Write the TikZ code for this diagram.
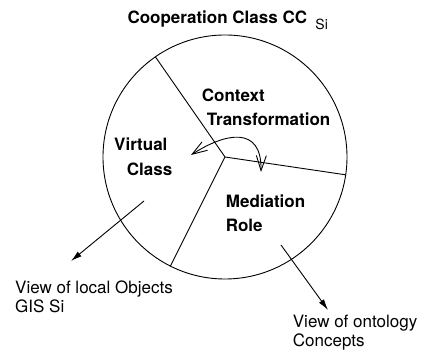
\documentclass[tikz,border=0pt]{standalone}
\usepackage{fontspec}
\setmainfont{TeX Gyre Heros}
\usetikzlibrary{arrows.meta,positioning}

\begin{document}
\begin{tikzpicture}[x=1pt,y=1pt,
    part/.style={font=\fontsize{17}{20}\selectfont\bfseries,anchor=base west,inner sep=0pt},
    note/.style={font=\fontsize{17}{20}\selectfont,anchor=base west,inner sep=0pt},
    wall/.style={line width=0.9pt},
    view/.style={line width=0.9pt,-{Latex[length=11pt,width=6pt]}},
    swap/.style={line width=0.9pt,{Straight Barb[length=15pt,width=10pt]}-{Straight Barb[length=15pt,width=10pt]}}]

    \useasboundingbox (0,0) rectangle (421,355);

    % the class and its three parts
    \coordinate (c) at (225,198);
    \draw[wall] (c) circle (122);

    \coordinate (b1) at ([shift={(124.8:122)}]c);
    \coordinate (b2) at ([shift={(-8.4:122)}]c);
    \coordinate (b3) at ([shift={(243.4:122)}]c);
    \draw[wall] (c) -- (b1);
    \draw[wall] (c) -- (b2);
    \draw[wall] (c) -- (b3);

    % transformation between the parts
    \coordinate (l) at (191,200);
    \coordinate (r) at (261,183);
    \draw[swap] (l) .. controls (225,222) and (262,230) .. (r);

    \node[part] (title) at (127.3,331.7) {Cooperation Class CC};
    \node[note,font=\fontsize{14}{16}\selectfont] (titlesi) at ([xshift=8pt,yshift=-6.7pt]title.base east) {Si};

    \node[part] (ctx) at (201.7,253.3) {Context};
    \node[part] (trf) at (206.7,229) {Transformation};
    \node[part] (virt) at (114,204.3) {Virtual};
    \node[part] (cls) at (126.7,179.3) {Class};
    \node[part] (med) at (225.7,147.5) {Mediation};
    \node[part] (role) at ([yshift=-24.2pt]med.base west) {Role};

    % the two views
    \coordinate (v1s) at (144,154);
    \coordinate (v1e) at (71,94);
    \coordinate (v2s) at (281,110);
    \coordinate (v2e) at (328,45);
    \draw[view] (v1s) -- (v1e);
    \draw[view] (v2s) -- (v2e);

    \node[note] (loc1) at (15,61.7) {View of local Objects};
    \node[note] (loc2) at ([yshift=-19.4pt]loc1.base west) {GIS Si};
    \node[note] (ont1) at (292.7,27.3) {View of ontology};
    \node[note] (ont2) at ([yshift=-19pt]ont1.base west) {Concepts};

  \end{tikzpicture}
\end{document}
